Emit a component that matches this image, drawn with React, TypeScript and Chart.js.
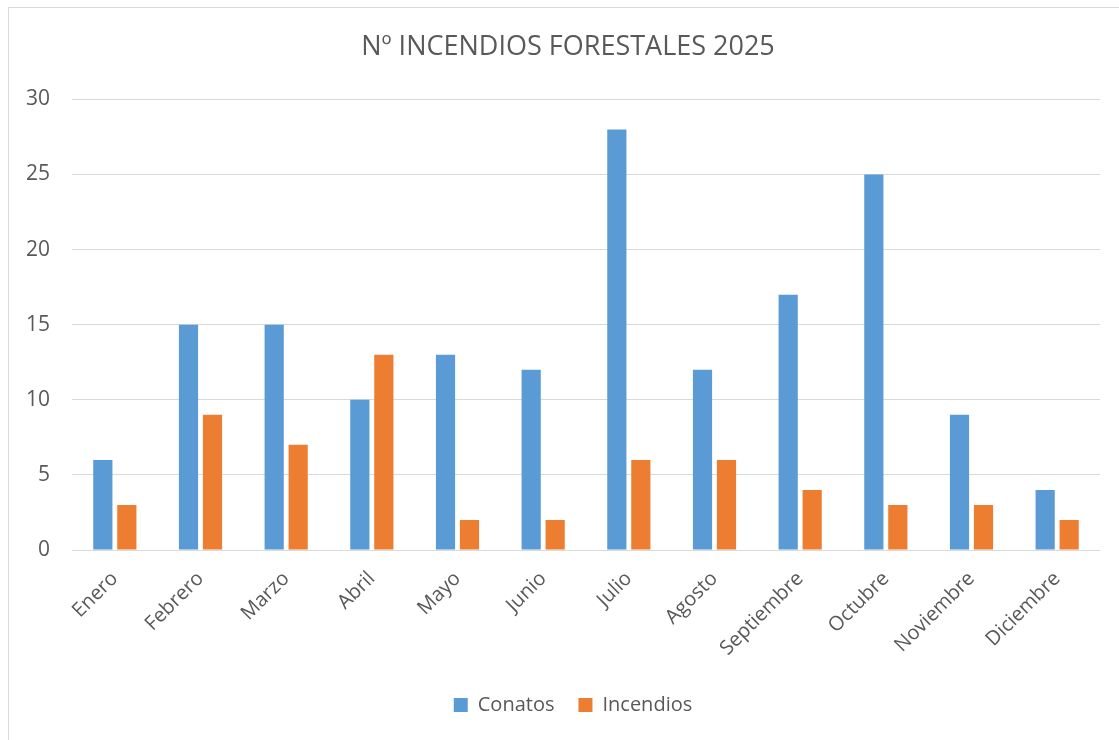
import React, { useEffect, useRef } from "react";
import { Chart, registerables } from "chart.js";

Chart.register(...registerables);

const categories = ["Enero", "Febrero", "Marzo", "Abril", "Mayo", "Junio", "Julio", "Agosto", "Septiembre", "Octubre", "Noviembre", "Diciembre"];
const conatos = [6, 15, 15, 10, 13, 12, 28, 12, 17, 25, 9, 4];
const incendios = [3, 9, 7, 13, 2, 2, 6, 6, 4, 3, 3, 2];
const titleText = "Nº INCENDIOS FORESTALES 2025";
const seriesNames = ["Conatos", "Incendios"];

const FONT = "'Open Sans', Lato, sans-serif";
const TEXT = "#595959";
const GRID = "#D9D9D9";

const shiftBoxes = {
  id: "shiftBoxes",
  afterLayout(chart: any) {
    if (chart.titleBlock) chart.titleBlock.left += 27;
    if (chart.legend) chart.legend.left += 37;
  },
};

export default function App() {
  const ref = useRef<HTMLCanvasElement>(null);
  useEffect(() => {
    if (!ref.current) return;
    const chart = new Chart(ref.current, {
      type: "bar",
      data: {
        labels: categories,
        datasets: [
          { label: seriesNames[0], data: conatos, backgroundColor: "#5B9BD5", categoryPercentage: 0.56, barPercentage: 0.8 },
          { label: seriesNames[1], data: incendios, backgroundColor: "#ED7D31", categoryPercentage: 0.56, barPercentage: 0.8 },
        ],
      },
      options: {
        responsive: false,
        animation: false,
        layout: { padding: { left: 0, right: 19, top: 0, bottom: 15 } },
        plugins: {
          title: {
            display: true,
            text: titleText,
            color: TEXT,
            font: { family: FONT, size: 27, weight: "normal" },
            padding: { top: 23, bottom: 36 },
          },
          legend: {
            position: "bottom",
            labels: {
              color: TEXT,
              font: { family: FONT, size: 20 },
              boxWidth: 14,
              boxHeight: 14,
              padding: 24,
            },
          },
          tooltip: { enabled: false },
        },
        scales: {
          x: {
            grid: { display: false },
            border: { display: false },
            ticks: {
              color: TEXT,
              font: { family: FONT, size: 20 },
              minRotation: 45,
              maxRotation: 45,
              padding: 9,
            },
            afterFit: (s: any) => { s.height = 121; },
          },
          y: {
            min: 0,
            max: 30,
            grid: { color: GRID, lineWidth: 1, drawTicks: false },
            border: { display: false },
            ticks: {
              stepSize: 5,
              color: TEXT,
              font: { family: FONT, size: 21 },
              padding: 22,
            },
            afterFit: (s: any) => { s.width = 63; },
          },
        },
      },
      plugins: [shiftBoxes],
    });
    return () => chart.destroy();
  }, []);
  return (
    <div style={{ position: "absolute", left: 8, top: 7, width: 1111, height: 733, borderTop: "1px solid #D9D9D9", borderLeft: "1px solid #D9D9D9", background: "#fff" }}>
      <canvas ref={ref} width={1110} height={732} style={{ display: "block" }} />
    </div>
  );
}
